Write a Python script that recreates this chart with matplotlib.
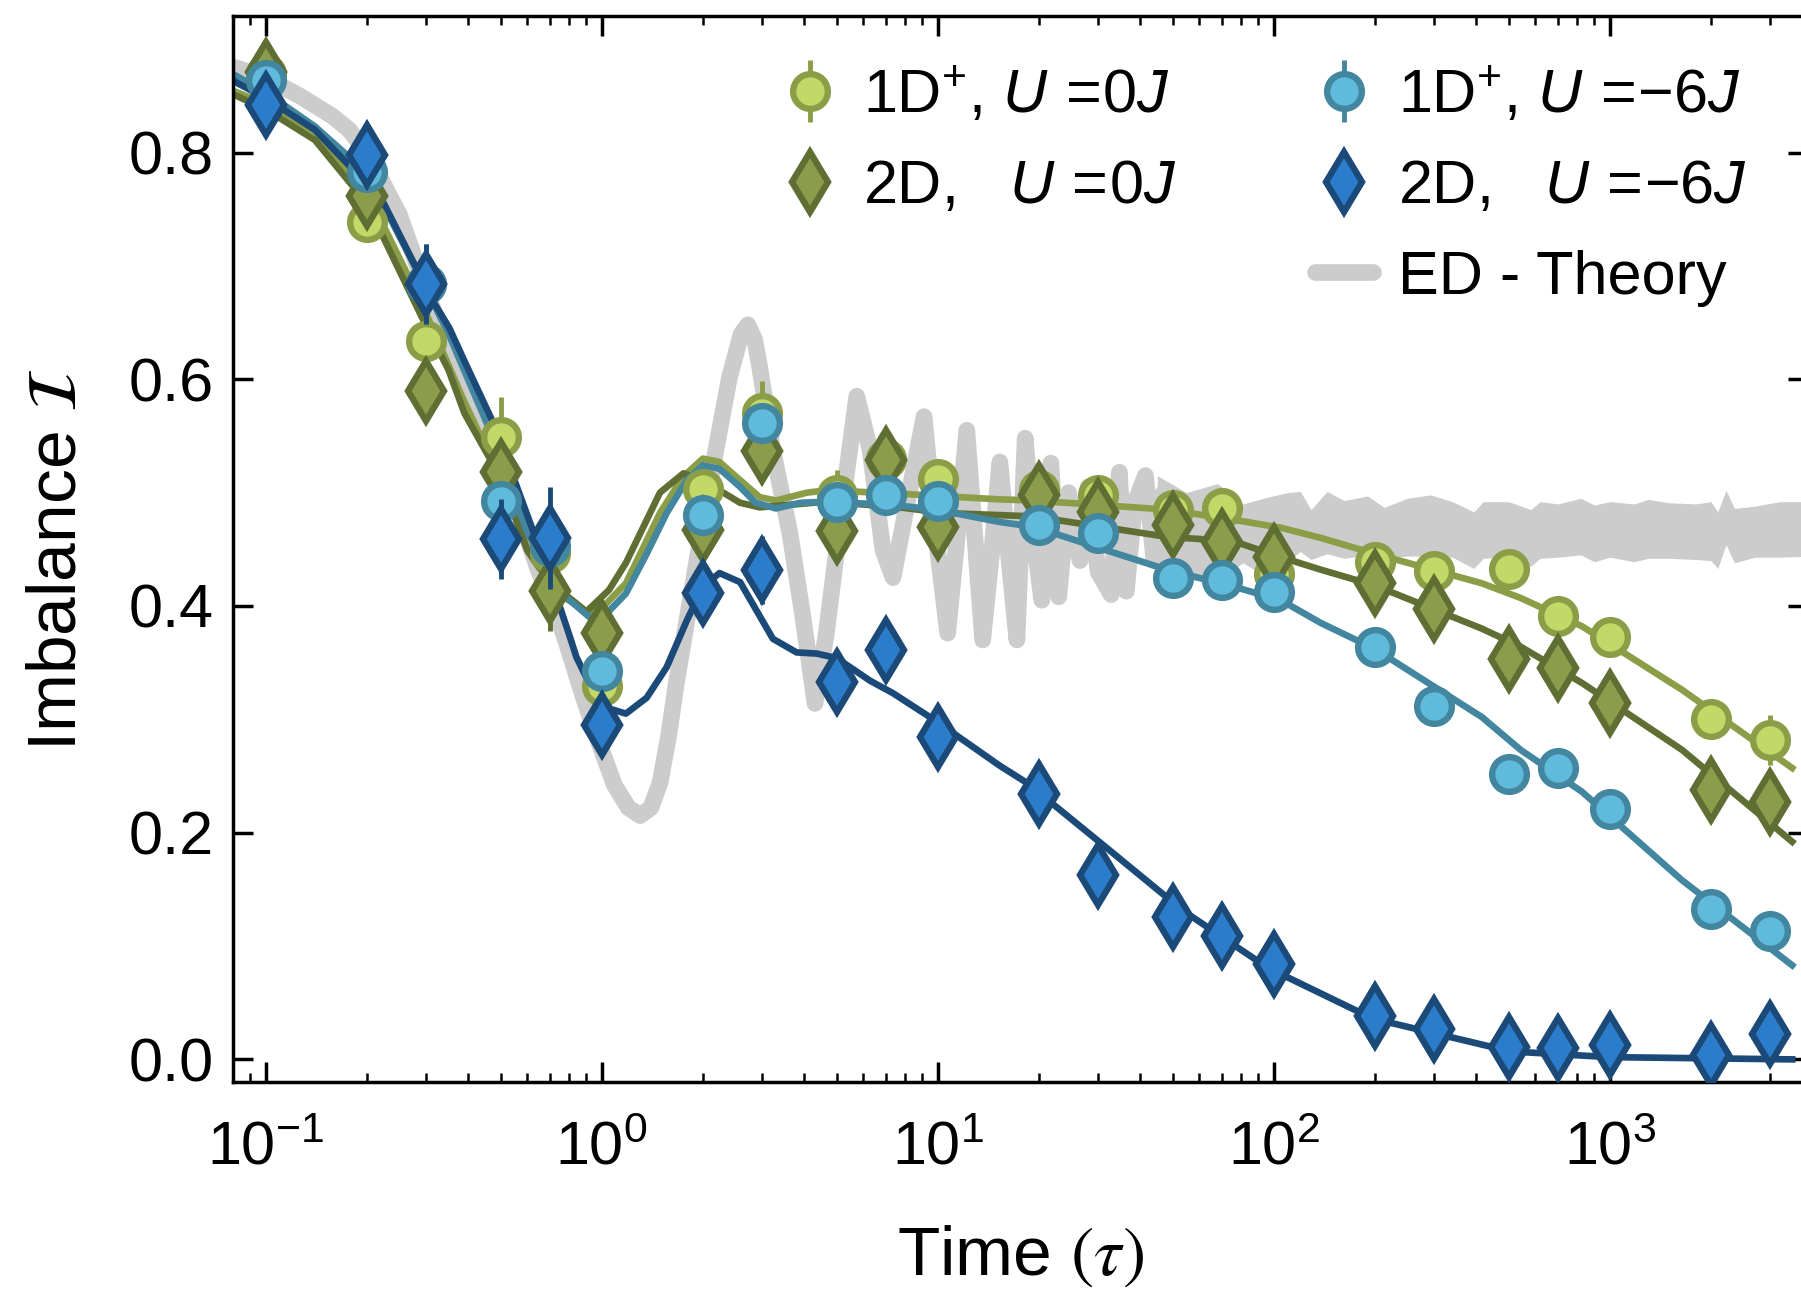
import matplotlib
matplotlib.use('Agg')
import matplotlib.pyplot as plt
from matplotlib.lines import Line2D
from matplotlib.ticker import FormatStrFormatter

plt.rcParams['font.family'] = ['Liberation Sans', 'DejaVu Sans']
plt.rcParams['mathtext.fontset'] = 'custom'
plt.rcParams['mathtext.rm'] = 'Liberation Sans'
plt.rcParams['mathtext.it'] = 'Liberation Sans:italic'
plt.rcParams['mathtext.bf'] = 'Liberation Sans:bold'

#################################################
# Data.
t_data = [0.1, 0.2, 0.3, 0.5, 0.7, 1, 2, 3, 5, 7, 10, 20, 30, 50, 70,
          100, 200, 300, 500, 700, 1000, 2000, 3000]

imb_1d_u0 = [0.869, 0.739, 0.634, 0.549, 0.447, 0.329, 0.503, 0.570, 0.498,
             0.530, 0.512, 0.502, 0.498, 0.485, 0.486, 0.428, 0.439, 0.431,
             0.433, 0.391, 0.373, 0.300, 0.282]
err_1d_u0 = [0.010, 0.010, 0.015, 0.035, 0.020, 0.015, 0.015, 0.028, 0.022,
             0.010, 0.012, 0.012, 0.010, 0.012, 0.010, 0.010, 0.010, 0.010,
             0.010, 0.012, 0.010, 0.010, 0.022]

imb_2d_u0 = [0.871, 0.762, 0.590, 0.518, 0.413, 0.376, 0.467, 0.537, 0.466,
             0.529, 0.470, 0.498, 0.483, 0.471, 0.456, 0.443, 0.420, 0.397,
             0.353, 0.345, 0.314, 0.238, 0.227]
err_2d_u0 = [0.015, 0.015, 0.012, 0.015, 0.035, 0.025, 0.012, 0.025, 0.015,
             0.015, 0.012, 0.015, 0.015, 0.018, 0.012, 0.012, 0.010, 0.010,
             0.010, 0.010, 0.010, 0.010, 0.010]

imb_1d_u6 = [0.864, 0.783, 0.684, 0.493, 0.453, 0.343, 0.480, 0.561, 0.492,
             0.498, 0.493, 0.471, 0.464, 0.425, 0.423, 0.412, 0.364, 0.312,
             0.252, 0.257, 0.221, 0.133, 0.113]
err_1d_u6 = [0.010, 0.010, 0.035, 0.012, 0.012, 0.010, 0.010, 0.012, 0.010,
             0.010, 0.010, 0.010, 0.010, 0.010, 0.010, 0.010, 0.010, 0.010,
             0.010, 0.010, 0.010, 0.010, 0.010]

imb_2d_u6 = [0.842, 0.798, 0.684, 0.459, 0.460, 0.295, 0.411, 0.432, 0.333,
             0.361, 0.284, 0.234, 0.163, 0.126, 0.109, 0.084, 0.038, 0.027,
             0.011, 0.010, 0.013, 0.004, 0.022]
err_2d_u6 = [0.010, 0.010, 0.035, 0.035, 0.045, 0.012, 0.012, 0.030, 0.012,
             0.012, 0.012, 0.010, 0.010, 0.010, 0.010, 0.010, 0.010, 0.010,
             0.010, 0.010, 0.010, 0.010, 0.010]

# Fit curves.
t_fit_1d_u0 = [0.079, 0.1, 0.14, 0.2, 0.29, 0.39, 0.5, 0.6, 0.75, 0.9, 1.0,
               1.18, 1.49, 1.745, 2.0, 2.24, 2.58, 2.95, 3.3, 4.09, 4.67, 7.7,
               15.3, 19.2, 48, 76, 105, 138, 200, 416, 543, 827, 1641, 3490]
fit_1d_u0 = [0.855, 0.843, 0.818, 0.765, 0.668, 0.580, 0.512, 0.452, 0.410,
             0.395, 0.398, 0.420, 0.482, 0.514, 0.530, 0.527, 0.511, 0.496,
             0.493, 0.500, 0.502, 0.499, 0.494, 0.493, 0.485, 0.476, 0.469,
             0.460, 0.446, 0.420, 0.407, 0.382, 0.326, 0.257]

t_fit_2d_u0 = [0.079, 0.1, 0.14, 0.2, 0.29, 0.35, 0.39, 0.5, 0.6, 0.65, 0.75,
               0.9, 1.05, 1.18, 1.49, 1.75, 2.0, 2.24, 2.58, 2.95, 4.67, 7.7,
               10.4, 19.2, 48, 76, 105, 138, 200, 416, 543, 827, 1641, 3490]
fit_2d_u0 = [0.852, 0.838, 0.811, 0.755, 0.656, 0.608, 0.570, 0.513, 0.449,
             0.434, 0.414, 0.395, 0.414, 0.438, 0.500, 0.517, 0.511, 0.502,
             0.491, 0.487, 0.492, 0.487, 0.482, 0.479, 0.461, 0.457, 0.443,
             0.432, 0.418, 0.380, 0.364, 0.332, 0.273, 0.192]

t_fit_1d_u6 = [0.079, 0.1, 0.14, 0.2, 0.3, 0.35, 0.48, 0.6, 0.76, 0.92, 1.055,
               1.18, 1.36, 1.56, 1.79, 2.0, 2.24, 2.58, 2.87, 3.3, 3.9, 4.67,
               7.36, 9.9, 15.3, 19.2, 48, 76, 105, 138, 200, 416, 543, 827,
               1641, 3490]
fit_1d_u6 = [0.870, 0.853, 0.823, 0.782, 0.680, 0.640, 0.545, 0.465, 0.411,
             0.390, 0.396, 0.411, 0.446, 0.482, 0.511, 0.524, 0.521, 0.505,
             0.491, 0.486, 0.491, 0.492, 0.489, 0.485, 0.474, 0.470, 0.432,
             0.417, 0.405, 0.385, 0.362, 0.302, 0.273, 0.236, 0.158, 0.083]

t_fit_2d_u6 = [0.079, 0.1, 0.14, 0.222, 0.313, 0.352, 0.393, 0.478, 0.623,
               0.648, 0.749, 0.805, 0.84, 0.94, 0.986, 1.18, 1.36, 1.56, 1.79,
               2.0, 2.24, 2.58, 3.23, 3.80, 4.36, 5.0, 6.29, 7.36, 9.93, 15.3,
               18.4, 30.5, 53.8, 95.7, 197, 507, 995, 3490]
fit_2d_u6 = [0.864, 0.848, 0.820, 0.758, 0.670, 0.645, 0.614, 0.560, 0.467,
             0.455, 0.400, 0.372, 0.355, 0.325, 0.312, 0.305, 0.319, 0.346,
             0.387, 0.417, 0.429, 0.421, 0.371, 0.359, 0.358, 0.354, 0.334,
             0.323, 0.298, 0.259, 0.244, 0.191, 0.131, 0.081, 0.036, 0.007,
             0.002, 0.000]

# ED theory: oscillating line, then a dense band.
t_ed = [0.079, 0.1, 0.126, 0.158, 0.177, 0.2, 0.25, 0.3, 0.35, 0.39, 0.45,
        0.5, 0.55, 0.6, 0.65, 0.72, 0.78, 0.88, 0.96, 1.09, 1.2, 1.3, 1.4,
        1.49, 1.58, 1.667, 1.87, 2.14, 2.40, 2.6, 2.72, 2.85, 2.95, 3.23,
        3.63, 3.97, 4.31, 4.66, 5.22, 5.74, 6.29, 6.87, 7.36, 8.1, 9.1, 9.8,
        10.7, 11.5, 12.2, 13.6, 14.5, 15.3, 16.3, 17.2, 18.2, 19.3, 20.4,
        21.7, 22.9, 24.5, 26.5, 28, 30, 32.8, 34.7, 36.4, 38.5, 41.5, 44, 47,
        50, 53.6, 57, 62]
imb_ed = [0.876, 0.866, 0.850, 0.832, 0.820, 0.800, 0.745, 0.678, 0.627,
          0.590, 0.555, 0.528, 0.492, 0.460, 0.430, 0.400, 0.370, 0.320,
          0.287, 0.242, 0.222, 0.215, 0.222, 0.244, 0.285, 0.332, 0.420,
          0.523, 0.602, 0.640, 0.648, 0.635, 0.611, 0.537, 0.464, 0.390,
          0.314, 0.376, 0.493, 0.585, 0.537, 0.449, 0.425, 0.490, 0.567,
          0.470, 0.376, 0.470, 0.555, 0.370, 0.450, 0.527, 0.440, 0.370,
          0.548, 0.460, 0.405, 0.526, 0.408, 0.500, 0.440, 0.505, 0.430,
          0.410, 0.518, 0.413, 0.490, 0.515, 0.440, 0.500, 0.430, 0.425,
          0.490, 0.450]

t_band = [45, 55, 68, 81, 96, 110, 120, 129, 144, 162, 190, 213, 250, 293,
          340, 394, 420, 500, 582, 620, 700, 820, 900, 1000, 1183, 1300, 1500,
          1800, 2000, 2095, 2218, 2349, 2700, 3200, 4000]
ed_upper = [0.515, 0.500, 0.508, 0.490, 0.496, 0.500, 0.501, 0.485, 0.501,
            0.493, 0.497, 0.487, 0.495, 0.498, 0.492, 0.483, 0.492, 0.492,
            0.485, 0.492, 0.490, 0.495, 0.489, 0.492, 0.490, 0.494, 0.491,
            0.490, 0.492, 0.483, 0.502, 0.486, 0.488, 0.492, 0.492]
ed_lower = [0.425, 0.423, 0.423, 0.438, 0.425, 0.440, 0.448, 0.441, 0.446,
            0.442, 0.445, 0.442, 0.444, 0.444, 0.443, 0.433, 0.442, 0.444,
            0.435, 0.442, 0.443, 0.445, 0.439, 0.443, 0.439, 0.442, 0.442,
            0.441, 0.440, 0.433, 0.454, 0.438, 0.443, 0.443, 0.444]

x_limits = [0.0799, 3890]
y_limits = [-0.020, 0.9204]
y_ticks = [0.0, 0.2, 0.4, 0.6, 0.8]

#################################################
# Colours.
c_gray = '#cccccc'
c_1d_u0_face, c_1d_u0_edge = '#c3d867', '#8b9e47'
c_2d_u0_face, c_2d_u0_edge = '#8b9d4b', '#5f6f33'
c_1d_u6_face, c_1d_u6_edge = '#5fbadc', '#43869f'
c_2d_u6_face, c_2d_u6_edge = '#2c7ccc', '#1b4a79'

#################################################
# Display.
fig = plt.figure(figsize=(18.01, 12.92), dpi=100)
ax = fig.add_axes([0.1294, 0.1625, 0.8745, 0.8251])
ax.set_xscale('log')

ax.plot(t_ed, imb_ed, color=c_gray, lw=12, zorder=1,
        solid_joinstyle='round', solid_capstyle='butt')
ax.fill_between(t_band, ed_lower, ed_upper, color=c_gray, lw=0, zorder=1)

lw_fit = 4.8
ax.plot(t_fit_1d_u0, fit_1d_u0, color=c_1d_u0_edge, lw=lw_fit, zorder=2)
ax.plot(t_fit_2d_u0, fit_2d_u0, color=c_2d_u0_edge, lw=lw_fit, zorder=2)
ax.plot(t_fit_1d_u6, fit_1d_u6, color=c_1d_u6_edge, lw=lw_fit, zorder=2)
ax.plot(t_fit_2d_u6, fit_2d_u6, color=c_2d_u6_edge, lw=lw_fit, zorder=2)

ms_c, ms_d, mew = 25, 31, 4.6
h1 = ax.errorbar(t_data, imb_1d_u0, yerr=err_1d_u0, fmt='o', ms=ms_c,
                 mfc=c_1d_u0_face, mec=c_1d_u0_edge, mew=mew,
                 ecolor=c_1d_u0_edge, elinewidth=3.5, capsize=0, zorder=5)
h2 = ax.errorbar(t_data, imb_2d_u0, yerr=err_2d_u0, fmt='d', ms=ms_d,
                 mfc=c_2d_u0_face, mec=c_2d_u0_edge, mew=mew,
                 ecolor=c_2d_u0_edge, elinewidth=3.5, capsize=0, zorder=6)
h3 = ax.errorbar(t_data, imb_1d_u6, yerr=err_1d_u6, fmt='o', ms=ms_c,
                 mfc=c_1d_u6_face, mec=c_1d_u6_edge, mew=mew,
                 ecolor=c_1d_u6_edge, elinewidth=3.5, capsize=0, zorder=7)
h4 = ax.errorbar(t_data, imb_2d_u6, yerr=err_2d_u6, fmt='d', ms=ms_d,
                 mfc=c_2d_u6_face, mec=c_2d_u6_edge, mew=mew,
                 ecolor=c_2d_u6_edge, elinewidth=3.5, capsize=0, zorder=8)

h_ed = Line2D([], [], color=c_gray, lw=12, solid_capstyle='round')
h_blank = Line2D([], [], ls='none')

handles = [h1, h2, h_blank, h3, h4, h_ed]
labels = [r'1D$^{+}$, $U\,{=}\!0J$', r'2D,   $U\,{=}\!0J$', '',
          r'1D$^{+}$, $U\,{=}\!{-}6J$', r'2D,   $U\,{=}\!{-}6J$',
          'ED - Theory']
ax.legend(handles, labels, ncol=2, frameon=False, fontsize=44,
          handlelength=0.95, handletextpad=0.4, columnspacing=2.27,
          labelspacing=0.55, borderpad=0, loc='upper left',
          bbox_to_anchor=(750 / 1801, 0.973), bbox_transform=fig.transFigure)

ax.set_xlim(x_limits)
ax.set_ylim(y_limits)
ax.set_yticks(y_ticks)
ax.yaxis.set_major_formatter(FormatStrFormatter('%.1f'))

ax.tick_params(which='major', direction='in', length=14.4, width=2.5,
               top=True, right=True, labelsize=44, pad=14)
ax.tick_params(axis='x', which='major', pad=28)
ax.tick_params(which='minor', direction='in', length=6.7, width=1.8,
               top=True, right=True)
for sp in ax.spines.values():
    sp.set_linewidth(2.5)

ax.set_xlabel(r'Time $(\tau)$', fontsize=50, math_fontfamily='stix')
ax.set_ylabel(r'Imbalance $\mathcal{I}$', fontsize=50, math_fontfamily='stix')
ax.xaxis.set_label_coords(0.5, -0.133)
ax.yaxis.set_label_coords(-0.091, 0.49)

fig.savefig('out.png', dpi=100)
